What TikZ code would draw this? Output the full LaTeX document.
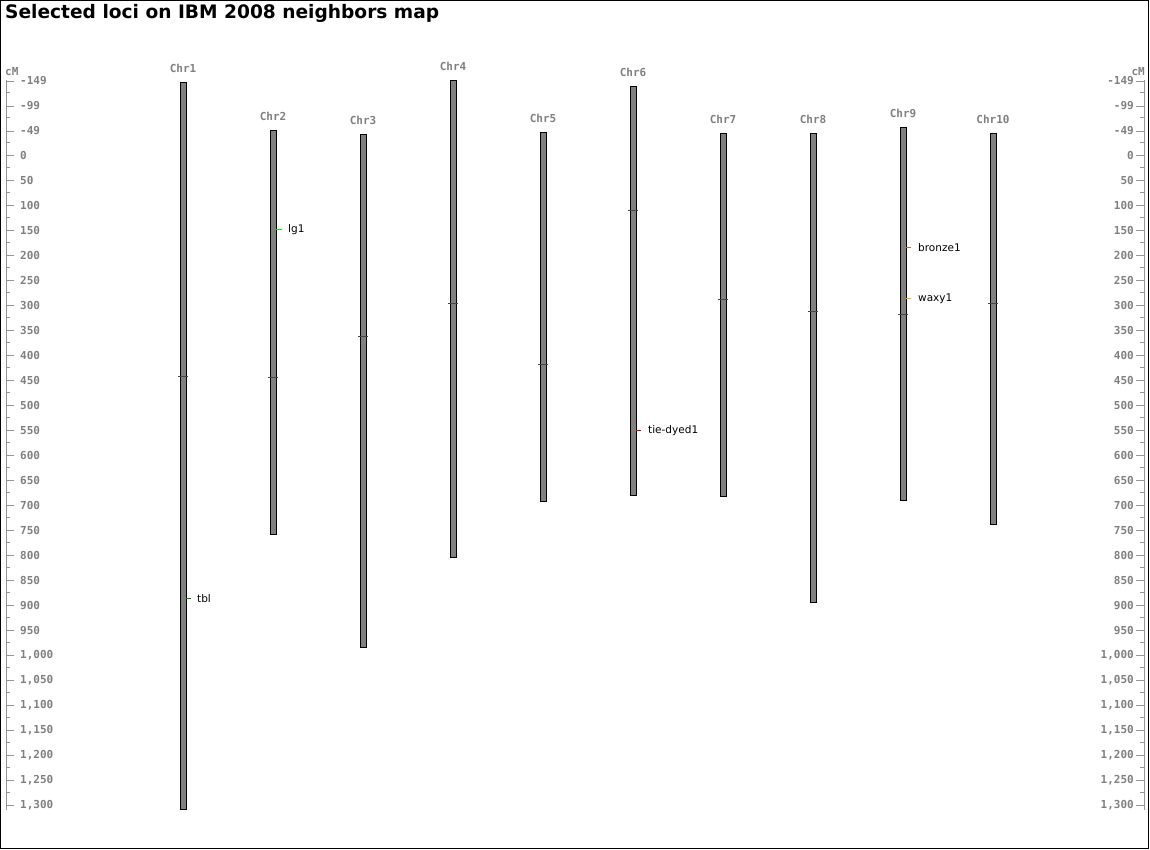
\documentclass[tikz,border=0pt]{standalone}
\usepackage{fontspec}
\setmainfont{DejaVu Sans}
\newfontfamily\titlefont{DejaVu Sans}
\newfontfamily\pixfont{DejaVu Sans Mono}
\definecolor{axisgray}{RGB}{150,150,150}
\definecolor{labgray}{RGB}{128,128,128}
\definecolor{barfill}{RGB}{128,128,128}
\definecolor{cengray}{RGB}{70,70,70}
\definecolor{tblgreen}{RGB}{0,128,0}
\definecolor{lggreen}{RGB}{0,230,0}
\definecolor{tiered}{RGB}{220,0,0}
\definecolor{bronzec}{RGB}{190,100,50}
\definecolor{waxyc}{RGB}{255,170,0}
\tikzset{
  axisline/.style={draw=axisgray, line width=1pt},
  axlab/.style={font=\pixfont\bfseries\fontsize{11}{11}\selectfont, text=labgray, inner sep=0pt},
  chrlab/.style={font=\pixfont\bfseries\fontsize{11}{11}\selectfont, text=labgray, inner sep=0pt},
  chrbar/.style={draw=black, fill=barfill, line width=1pt, minimum width=6pt, inner sep=0pt, outer sep=0pt},
  centick/.style={draw=cengray, line width=1pt},
  locuslab/.style={font=\fontsize{10.5}{10.5}\selectfont, text=black, inner sep=0pt, anchor=west},
  locustick/.style={line width=1.3pt}
}
\begin{document}
\begin{tikzpicture}[x=1pt,y=-1pt]
\useasboundingbox (0,0) rectangle (1150,849);
\draw[black, line width=1pt] (0.5,0.5) rectangle (1148.5,848.5);
\node[anchor=west, inner sep=0pt, font=\titlefont\bfseries\fontsize{18.6}{20}\selectfont] (title) at (5,13) {Selected loci on IBM 2008 neighbors map};

% left axis
\node[axlab, anchor=south west] (cmL) at (5,76) {cM};
\coordinate (la1) at (6.5,80);
\coordinate (la2) at (6.5,810);
\draw[axisline] (la1) -- (la2);
% right axis
\node[axlab, anchor=south east] (cmR) at (1145,76) {cM};
\coordinate (ra1) at (1144.5,80);
\coordinate (ra2) at (1144.5,810);
\draw[axisline] (ra1) -- (ra2);
\foreach \v/\t in {-149/-149,-99/-99,-49/-49,0/0,50/50,100/100,150/150,200/200,250/250,300/300,350/350,400/400,450/450,500/500,550/550,600/600,650/650,700/700,750/750,800/800,850/850,900/900,950/950,1000/{1,000},1050/{1,050},1100/{1,100},1150/{1,150},1200/{1,200},1250/{1,250},1300/{1,300}}{
  \pgfmathsetmacro{\yy}{155.5+\v/2}
  \draw[axisline] (6,\yy) -- (14,\yy);
  \draw[axisline] (1136,\yy) -- (1145,\yy);
  \node[axlab, anchor=west] at (20,\yy) {\t};
  \node[axlab, anchor=east] at (1134,\yy) {\t};
}
\foreach \k in {0,...,28}{
  \pgfmathsetmacro{\yy}{92.5+25*\k}
  \draw[axisline] (6,\yy) -- (10,\yy);
  \draw[axisline] (1140,\yy) -- (1145,\yy);
}

% chromosomes: name/x/top/bottom/centromere
\foreach \n/\x/\t/\b/\c in {1/183/82/809/376.5, 2/273/130/534/377.5, 3/363/134/647/336.5, 4/453/80/557/303.5, 5/543/132/501/364.5, 6/633/86/495/210.5, 7/723/133/496/299.5, 8/813/133/602/311.5, 9/903/127/500/314.5, 10/993/133/524/303.5}{
  \pgfmathsetmacro{\h}{\b-\t}
  \pgfmathsetmacro{\m}{(\b+\t)/2}
  \node[chrbar, minimum height=\h pt] (chr\n) at (\x,\m) {};
  \node[chrlab, anchor=base] (chrl\n) at (\x,\t-10) {Chr\n};
  \draw[centick] (\x-5,\c) -- (\x+5,\c);
}

% loci
\node[locuslab] (tbl) at (197,598.5) {tbl};
\draw[locustick, draw=tblgreen] (chr1.east |- tbl) -- ++(5,0);
\node[locuslab] (lg1) at (288,229.5) {lg1};
\draw[locustick, draw=lggreen] (chr2.east |- lg1) -- ++(6,0);
\node[locuslab] (tie) at (648,430.5) {tie-dyed1};
\draw[locustick, draw=tiered] (chr6.east |- tie) -- ++(5,0);
\node[locuslab] (bronze) at (918,247.5) {bronze1};
\draw[locustick, draw=bronzec] (chr9.east |- bronze) -- ++(5,0);
\node[locuslab] (waxy) at (918,298.5) {waxy1};
\draw[locustick, draw=waxyc] (chr9.east |- waxy) -- ++(5,0);
\end{tikzpicture}
\end{document}
